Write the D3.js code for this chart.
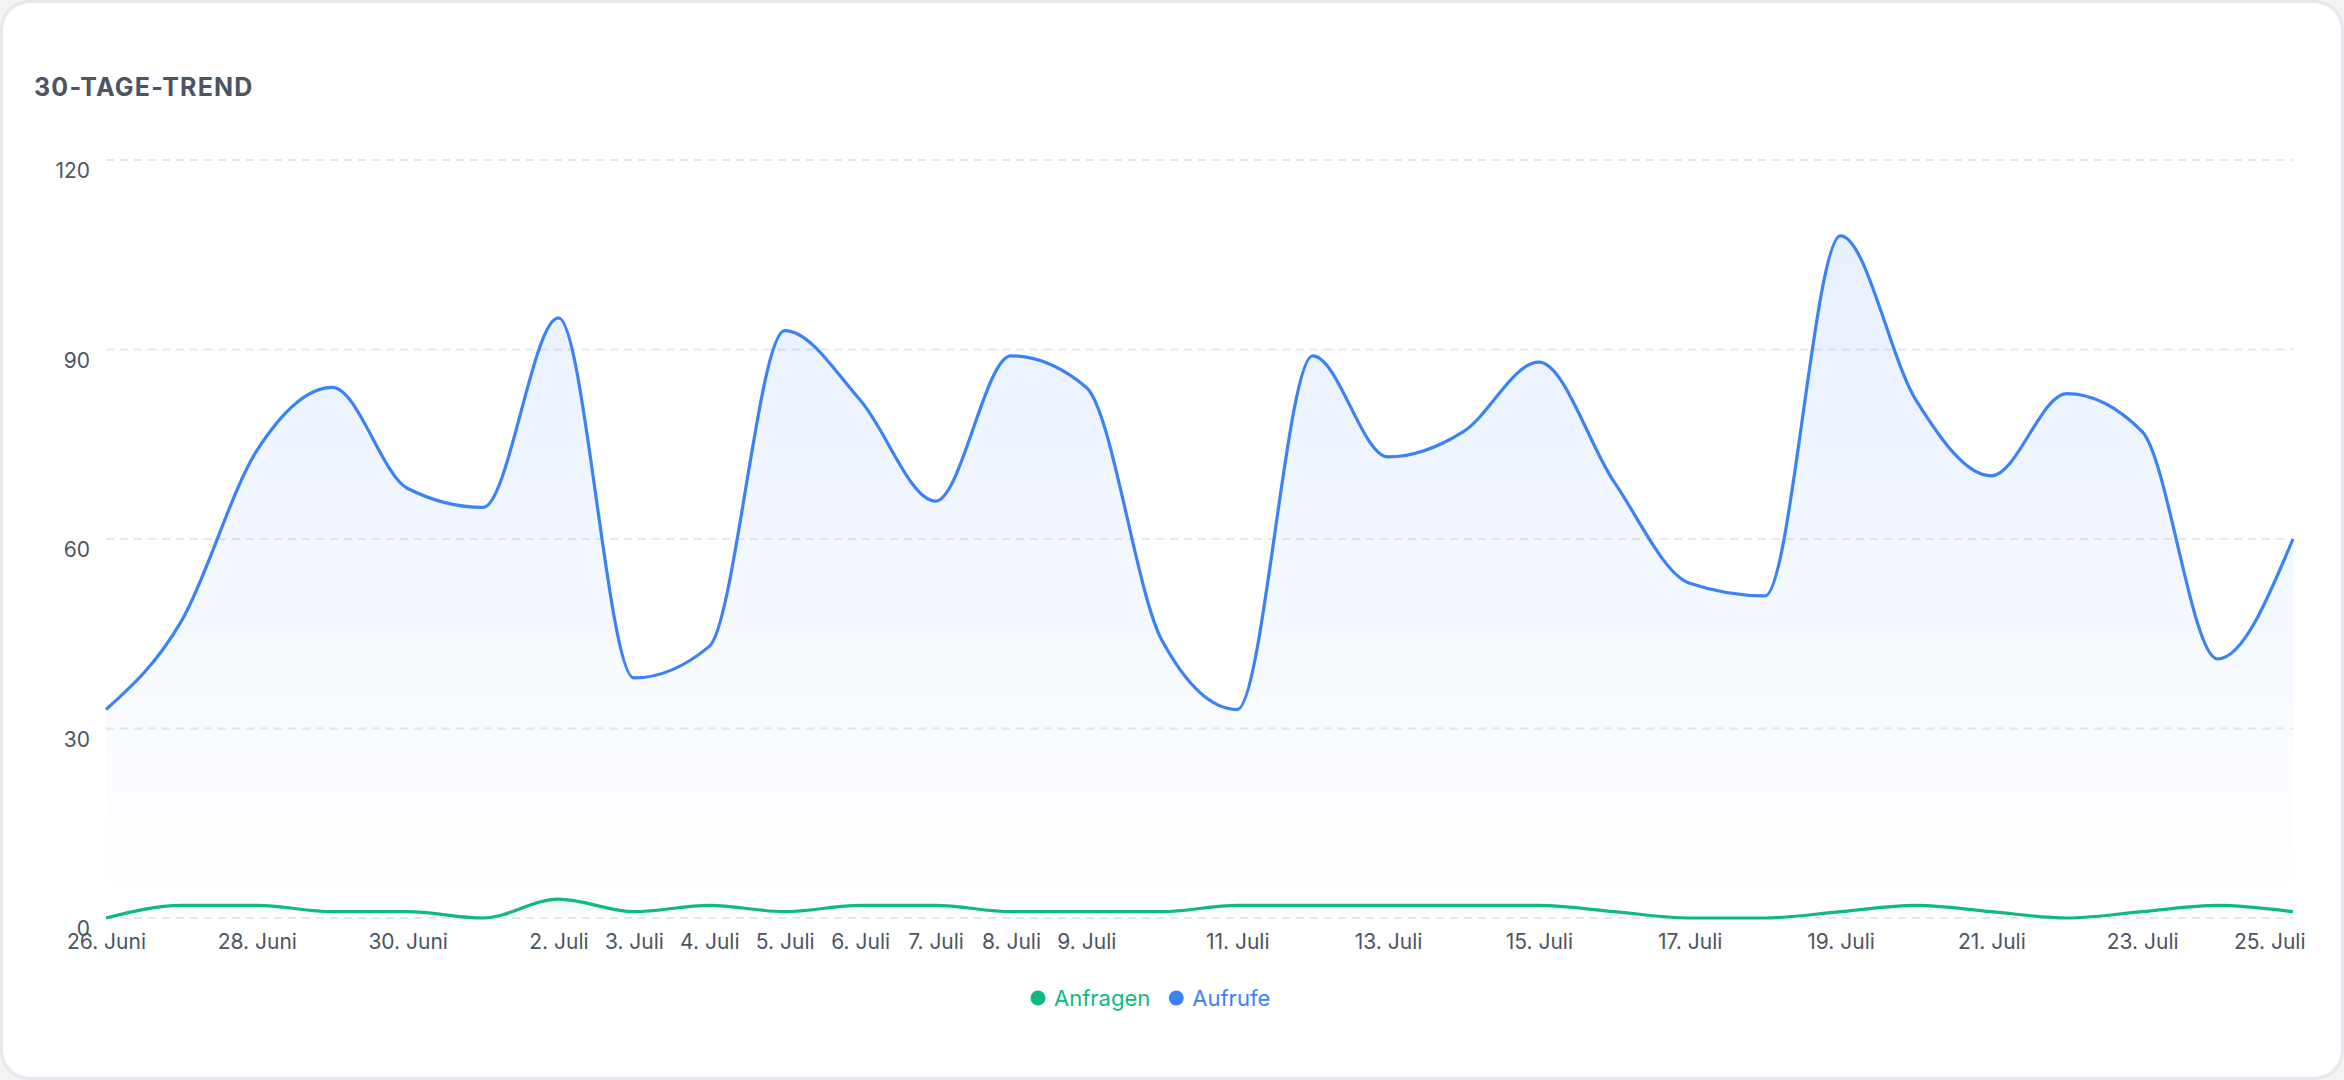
<!DOCTYPE html>
<html>
<head>
<meta charset="utf-8">
<script src="https://cdn.jsdelivr.net/npm/d3@7"></script>
<style>
  html, body { margin: 0; padding: 0; background: #f3f4f6; }
  svg { display: block; font-family: Inter, "Noto Sans", sans-serif; }
</style>
</head>
<body>
<svg id="chart" width="2344" height="1080"></svg>
<script>
// 30 days, 26 Juni .. 25 Juli
var days = ["26. Juni","27. Juni","28. Juni","29. Juni","30. Juni","1. Juli","2. Juli","3. Juli","4. Juli","5. Juli",
  "6. Juli","7. Juli","8. Juli","9. Juli","10. Juli","11. Juli","12. Juli","13. Juli","14. Juli","15. Juli",
  "16. Juli","17. Juli","18. Juli","19. Juli","20. Juli","21. Juli","22. Juli","23. Juli","24. Juli","25. Juli"];
var shownLabels = ["26. Juni","28. Juni","30. Juni","2. Juli","3. Juli","4. Juli","5. Juli","6. Juli","7. Juli","8. Juli","9. Juli",
  "11. Juli","13. Juli","15. Juli","17. Juli","19. Juli","21. Juli","23. Juli","25. Juli"];
var aufrufe = [33,47,74,84,68,65,95,38,43,93,82,66,89,84,44,33,89,73,77,88,69,53,51,108,82,70,83,77,41,60];
var anfragen = [0,2,2,1,1,0,3,1,2,1,2,2,1,1,1,2,2,2,2,2,1,0,0,1,2,1,0,1,2,1];
var yTicks = [0,30,60,90,120];

var svg = d3.select("#chart");

// card
svg.append("rect")
  .attr("x", 1.5).attr("y", 1.5)
  .attr("width", 2341).attr("height", 1077)
  .attr("rx", 28)
  .attr("fill", "#ffffff")
  .attr("stroke", "#e5e7eb")
  .attr("stroke-width", 3);

svg.append("text")
  .attr("x", 34).attr("y", 96)
  .attr("font-size", 25).attr("font-weight", 700)
  .attr("letter-spacing", 1.2)
  .attr("fill", "#4b5563")
  .text("30-TAGE-TREND");

var margin = { left: 106, right: 2293, top: 160, bottom: 918 };

var x = d3.scalePoint().domain(days).range([margin.left, margin.right]);
var y = d3.scaleLinear().domain([0, 120]).range([margin.bottom, margin.top]);

// grid
svg.append("g").selectAll("line").data(yTicks).join("line")
  .attr("x1", margin.left).attr("x2", margin.right)
  .attr("y1", function(d){ return y(d); }).attr("y2", function(d){ return y(d); })
  .attr("stroke", "#e5e7eb").attr("stroke-width", 2)
  .attr("stroke-dasharray", "8,6");

// y axis labels
var yAxis = svg.append("g")
  .attr("transform", "translate(" + (margin.left - 16) + ",0)")
  .call(d3.axisLeft(y).tickValues(yTicks).tickSize(0).tickPadding(0));
yAxis.select(".domain").remove();
yAxis.selectAll("text")
  .attr("font-size", 21).attr("fill", "#4b5563")
  .attr("font-family", "Inter, 'Noto Sans', sans-serif")
  .attr("dy", "0.85em");

// x axis labels
var xAxis = svg.append("g")
  .attr("transform", "translate(0," + (margin.bottom + 12) + ")")
  .call(d3.axisBottom(x).tickValues(shownLabels).tickSize(0).tickPadding(0));
xAxis.select(".domain").remove();
xAxis.selectAll("text")
  .attr("font-size", 21).attr("fill", "#4b5563")
  .attr("font-family", "Inter, 'Noto Sans', sans-serif")
  .attr("dy", "0.9em")
  .attr("text-anchor", function(d){ return d === "25. Juli" ? "end" : "middle"; })
  .attr("dx", function(d){ return d === "25. Juli" ? 12 : 0; });

// gradients
var defs = svg.append("defs");
function grad(id, color, op) {
  var g = defs.append("linearGradient").attr("id", id)
    .attr("x1", 0).attr("y1", 0).attr("x2", 0).attr("y2", 1);
  g.append("stop").attr("offset", "0%").attr("stop-color", color).attr("stop-opacity", op);
  g.append("stop").attr("offset", "100%").attr("stop-color", color).attr("stop-opacity", 0);
}
grad("gBlue", "#3b82f6", 0.12);
grad("gGreen", "#10b981", 0.1);

function drawSeries(values, color, gradId) {
  var pts = values.map(function(v, i){ return [days[i], v]; });
  var area = d3.area()
    .x(function(d){ return x(d[0]); })
    .y0(y(0))
    .y1(function(d){ return y(d[1]); })
    .curve(d3.curveMonotoneX);
  var line = d3.line()
    .x(function(d){ return x(d[0]); })
    .y(function(d){ return y(d[1]); })
    .curve(d3.curveMonotoneX);
  svg.append("path").attr("d", area(pts)).attr("fill", "url(#" + gradId + ")");
  svg.append("path").attr("d", line(pts))
    .attr("fill", "none").attr("stroke", color).attr("stroke-width", 3.2)
    .attr("stroke-linejoin", "round");
}
drawSeries(aufrufe, "#3b82f6", "gBlue");
drawSeries(anfragen, "#10b981", "gGreen");

// legend
var legendItems = [
  { name: "Anfragen", color: "#10b981" },
  { name: "Aufrufe", color: "#3b82f6" }
];
var legend = svg.append("g").attr("transform", "translate(1030,998)");
var lx = 0;
legendItems.forEach(function(item){
  var g = legend.append("g").attr("transform", "translate(" + lx + ",0)");
  g.append("circle").attr("cx", 8).attr("cy", 0).attr("r", 7.5).attr("fill", item.color);
  var t = g.append("text").attr("x", 24).attr("y", 0).attr("dy", "0.35em")
    .attr("font-size", 22).attr("fill", item.color).text(item.name);
  lx += 24 + t.node().getComputedTextLength() + 18;
});
</script>
</body>
</html>
